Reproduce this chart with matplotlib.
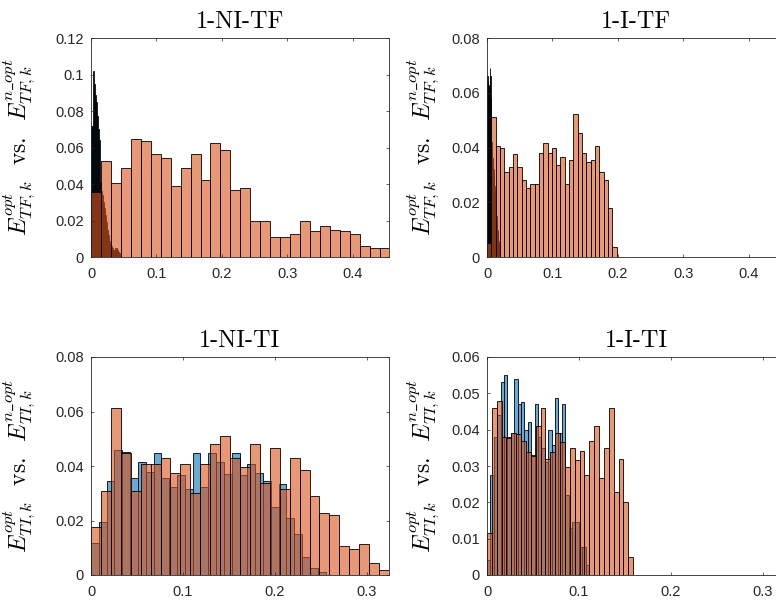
import numpy as np
import matplotlib
matplotlib.use("Agg")
from matplotlib import pyplot as plt

# ---- data (probability-normalised histograms) ----
# 1-NI-TF
tf_ni_opt_w = 0.0015
tf_ni_opt = [0.072, 0.072, 0.102, 0.095, 0.089, 0.085, 0.077, 0.070, 0.064, 0.041,
             0.036, 0.034, 0.030, 0.027, 0.023, 0.019, 0.015, 0.012, 0.009, 0.007,
             0.006, 0.005, 0.004, 0.004, 0.005, 0.005, 0.004, 0.003, 0.003, 0.002]
tf_ni_nopt_w = 0.0152
tf_ni_nopt = [0.0356, 0.0524, 0.0405, 0.0488, 0.0648, 0.0636, 0.0566, 0.0544, 0.0387, 0.0488,
              0.0566, 0.0420, 0.0625, 0.0584, 0.0365, 0.0378, 0.0195, 0.0195, 0.0110, 0.0110,
              0.0128, 0.0200, 0.0142, 0.0172, 0.0150, 0.0142, 0.0128, 0.0058, 0.0051, 0.0051]

# 1-I-TF
tf_i_opt_w = 0.0005
tf_i_opt = [0.065, 0.066, 0.064, 0.062, 0.063, 0.061, 0.060, 0.062, 0.064, 0.069,
            0.066, 0.058, 0.052, 0.042, 0.040, 0.038, 0.036, 0.035, 0.033, 0.032,
            0.030, 0.028, 0.026, 0.024, 0.022, 0.021, 0.019, 0.018, 0.016, 0.015,
            0.0135, 0.012, 0.010, 0.009, 0.0075, 0.006, 0.005, 0.004, 0.003, 0.002, 0.0014]
tf_i_nopt_w = 0.0066
tf_i_nopt = [0.005, 0.051, 0.0405, 0.040, 0.031, 0.033, 0.0377, 0.033, 0.028, 0.0252,
             0.0267, 0.0267, 0.0379, 0.0418, 0.0379, 0.040, 0.0336, 0.0367, 0.0267, 0.0354,
             0.0522, 0.0452, 0.0379, 0.0348, 0.0354, 0.0407, 0.0312, 0.0281, 0.0178, 0.0035]

# 1-NI-TI
ti_ni_opt_w = 0.0085
ti_ni_opt = [0.0116, 0.0196, 0.0345, 0.0459, 0.0453, 0.0355, 0.0416, 0.0379, 0.0449, 0.0355,
             0.0324, 0.0367, 0.0315, 0.0449, 0.0324, 0.0449, 0.0416, 0.0370, 0.0449, 0.0367,
             0.0406, 0.0375, 0.0345, 0.0248, 0.0334, 0.0210, 0.0149, 0.0067, 0.0027, 0.0010]
ti_ni_nopt_w = 0.0108
ti_ni_nopt = [0.0177, 0.0310, 0.0612, 0.0447, 0.0310, 0.0406, 0.0406, 0.0428, 0.0375, 0.0406,
              0.0300, 0.0406, 0.0480, 0.0511, 0.0428, 0.0398, 0.0480, 0.0336, 0.0467, 0.0316,
              0.0428, 0.0385, 0.0290, 0.0229, 0.0219, 0.0106, 0.0097, 0.0115, 0.0045, 0.0018]

# 1-I-TI
ti_i_opt_w = 0.0037
ti_i_opt = [0.004, 0.0275, 0.038, 0.044, 0.0532, 0.055, 0.038, 0.039, 0.054, 0.047,
            0.0477, 0.040, 0.0422, 0.033, 0.047, 0.038, 0.035, 0.031, 0.040, 0.0358,
            0.0488, 0.039, 0.047, 0.022, 0.0128, 0.0147, 0.0147, 0.0078, 0.0078, 0.0028]
ti_i_nopt_w = 0.0053
ti_i_nopt = [0.0115, 0.0459, 0.0479, 0.0381, 0.0378, 0.0390, 0.0387, 0.0370, 0.0338, 0.0328,
             0.0410, 0.0459, 0.0318, 0.0338, 0.0390, 0.0367, 0.0296, 0.0349, 0.0317, 0.0340,
             0.0275, 0.0369, 0.0410, 0.0266, 0.0349, 0.0460, 0.0229, 0.0318, 0.0200, 0.0049]

titles = ["1-NI-TF", "1-I-TF", "1-NI-TI", "1-I-TI"]
ylims = [0.12, 0.08, 0.08, 0.06]
ysteps = [0.02, 0.02, 0.02, 0.01]
xlims = [0.455, 0.455, 0.324, 0.324]
kinds = ["TF", "TF", "TI", "TI"]

panels = [
    (tf_ni_opt, tf_ni_opt_w, tf_ni_nopt, tf_ni_nopt_w),
    (tf_i_opt, tf_i_opt_w, tf_i_nopt, tf_i_nopt_w),
    (ti_ni_opt, ti_ni_opt_w, ti_ni_nopt, ti_ni_nopt_w),
    (ti_i_opt, ti_i_opt_w, ti_i_nopt, ti_i_nopt_w),
]

blue = (0.0, 0.447, 0.741, 0.6)
orange = (0.85, 0.325, 0.098, 0.6)
axcol = "#262626"

plt.rcParams["mathtext.fontset"] = "cm"

W, H = 776, 605
fig = plt.figure(figsize=(W / 100, H / 100), dpi=100)

# axes boxes in pixels: left, top, width, height
boxes = [(91, 38, 298, 219), (487, 38, 298, 219),
         (91, 357, 298, 218), (487, 357, 298, 218)]
label_x = [-0.18, -0.153, -0.18, -0.153]

for i, (opt, w_opt, nopt, w_nopt) in enumerate(panels):
    l, t, w, h = boxes[i]
    ax = fig.add_axes([l / W, (H - t - h) / H, w / W, h / H])

    ax.bar(np.arange(len(opt)) * w_opt, opt, width=w_opt, align="edge",
           color=blue, edgecolor="k", linewidth=0.6)
    ax.bar(np.arange(len(nopt)) * w_nopt, nopt, width=w_nopt, align="edge",
           color=orange, edgecolor="k", linewidth=0.6)

    ax.set_xlim(0, xlims[i])
    ax.set_ylim(0, ylims[i])
    ax.set_xticks(np.arange(0, xlims[i], 0.1))
    ax.set_yticks(np.arange(0, ylims[i] + 1e-9, ysteps[i]))
    ax.xaxis.set_major_formatter(matplotlib.ticker.FormatStrFormatter("%g"))
    ax.yaxis.set_major_formatter(matplotlib.ticker.FormatStrFormatter("%g"))
    ax.tick_params(direction="in", length=2.5, width=0.5, top=True, right=True,
                   colors=axcol, labelsize=10.5, pad=5)
    ax.tick_params(axis="x", pad=7)
    for lab in ax.get_xticklabels() + ax.get_yticklabels():
        lab.set_family("Liberation Sans")
    for sp in ax.spines.values():
        sp.set_color(axcol)
        sp.set_linewidth(0.6)

    ax.set_title(titles[i], family="cmr10", fontsize=17.5, pad=7)
    k = kinds[i]
    ax.set_ylabel(r"$E^{opt}_{%s,k}$  vs.  $E^{n\_opt}_{%s,k}$" % (k, k),
                  family="cmr10", fontsize=17)
    ax.yaxis.set_label_coords(label_x[i], 0.5)

fig.savefig("out.png", dpi=100)
